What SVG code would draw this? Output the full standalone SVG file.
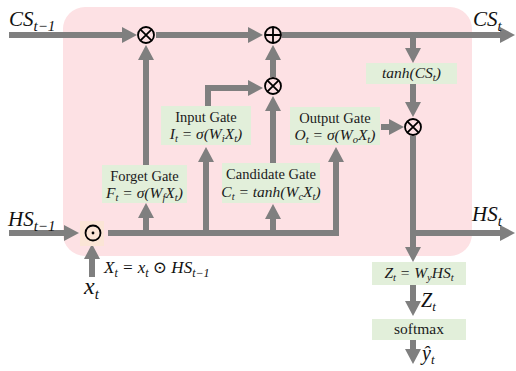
<svg xmlns="http://www.w3.org/2000/svg" width="516" height="371" viewBox="0 0 516 371">
<style>
.box{fill:#e2efda}
.t{font-family:"Liberation Serif","DejaVu Serif",serif;font-size:14.5px;fill:#1a1a1a;text-anchor:middle}
.m{font-family:"Liberation Serif","DejaVu Serif",serif;font-style:italic;font-size:15.5px;fill:#1a1a1a;text-anchor:middle}
.lab{font-family:"Liberation Serif","DejaVu Serif",serif;font-style:italic;font-size:21px;fill:#111}
.s{font-size:15px}
.ss{font-size:10.5px}
.ln{fill:none;stroke:#7f7f7f;stroke-width:6;marker-end:url(#ah)}
.op{fill:none;stroke:#000;stroke-width:1.8}
</style>
<defs>
<marker id="ah" markerUnits="userSpaceOnUse" viewBox="0 0 15 16" refX="5" refY="8" markerWidth="15" markerHeight="16" orient="auto">
<path d="M0,0 L15,8 L0,16 z" fill="#7f7f7f"/>
</marker>
</defs>
<rect x="63" y="7" width="409" height="249" rx="22" fill="#fde1e4"/>

<g id="connectors">
<path class="ln" d="M9,35 H127"/>
<path class="ln" d="M156,35 H253"/>
<path class="ln" d="M282,35 H505"/>
<path class="ln" d="M413,35 V53"/>
<path class="ln" d="M413,84 V107"/>
<path class="ln" d="M381,127 H394"/>
<path class="ln" d="M413,136 V252"/>
<path class="ln" d="M413,233 H505"/>
<path class="ln" d="M413,285 V306"/>
<path class="ln" d="M413,340 V354"/>
<path class="ln" d="M9,233 H69"/>
<path class="ln" d="M108,233 H336 V157"/>
<path class="ln" d="M146,233 V213"/>
<path class="ln" d="M206,233 V157"/>
<path class="ln" d="M273,233 V214"/>
<path class="ln" d="M146,165 V55"/>
<path class="ln" d="M208,106 V88 H253"/>
<path class="ln" d="M273,163 V106"/>
<path class="ln" d="M273,77 V55"/>
<path class="ln" d="M92,277 V254"/>
</g>

<g id="mul-forget"><circle class="op" cx="146" cy="35" r="8"/><path class="op" d="M140.3,29.3 L151.7,40.7 M151.7,29.3 L140.3,40.7"/></g>
<g id="add"><circle class="op" cx="273" cy="35" r="8"/><path class="op" d="M265,35 H281 M273,27 V43"/></g>
<g id="mul-input"><circle class="op" cx="273" cy="86" r="8"/><path class="op" d="M267.3,80.3 L278.7,91.7 M278.7,80.3 L267.3,91.7"/></g>
<g id="mul-output"><circle class="op" cx="413" cy="127" r="8"/><path class="op" d="M407.3,121.3 L418.7,132.7 M418.7,121.3 L407.3,132.7"/></g>
<g id="hadamard"><rect x="80" y="221" width="24" height="25" fill="#fbe5d6"/><circle class="op" cx="93" cy="233" r="7.5"/><circle cx="93" cy="233" r="1.4" fill="#000"/></g>

<g id="forget-gate"><rect class="box" x="102" y="165" width="85" height="38"/>
<text class="t" x="144.5" y="181">Forget Gate</text>
<text class="m" x="144.5" y="198">F<tspan class="ss" dy="3">t</tspan><tspan dy="-3"> = σ(W</tspan><tspan class="ss" dy="3">f</tspan><tspan dy="-3">X</tspan><tspan class="ss" dy="3">t</tspan><tspan dy="-3">)</tspan></text></g>

<g id="input-gate"><rect class="box" x="161" y="106" width="90" height="39"/>
<text class="t" x="206" y="122">Input Gate</text>
<text class="m" x="206" y="139">I<tspan class="ss" dy="3">t</tspan><tspan dy="-3"> = σ(W</tspan><tspan class="ss" dy="3">i</tspan><tspan dy="-3">X</tspan><tspan class="ss" dy="3">t</tspan><tspan dy="-3">)</tspan></text></g>

<g id="candidate-gate"><rect class="box" x="222" y="163" width="98" height="40"/>
<text class="t" x="271" y="179">Candidate Gate</text>
<text class="m" x="271" y="197">C<tspan class="ss" dy="3">t</tspan><tspan dy="-3"> = tanh(W</tspan><tspan class="ss" dy="3">c</tspan><tspan dy="-3">X</tspan><tspan class="ss" dy="3">t</tspan><tspan dy="-3">)</tspan></text></g>

<g id="output-gate"><rect class="box" x="290" y="107" width="90" height="38"/>
<text class="t" x="335" y="123">Output Gate</text>
<text class="m" x="335" y="140">O<tspan class="ss" dy="3">t</tspan><tspan dy="-3"> = σ(W</tspan><tspan class="ss" dy="3">o</tspan><tspan dy="-3">X</tspan><tspan class="ss" dy="3">t</tspan><tspan dy="-3">)</tspan></text></g>

<g id="tanh"><rect class="box" x="366" y="63" width="91" height="21"/>
<text class="m" x="411.5" y="78">tanh(CS<tspan class="ss" dy="3">t</tspan><tspan dy="-3">)</tspan></text></g>

<g id="zt"><rect class="box" x="372" y="262" width="94" height="23"/>
<text class="m" x="419" y="278">Z<tspan class="ss" dy="3">t</tspan><tspan dy="-3"> = W</tspan><tspan class="ss" dy="3">y</tspan><tspan dy="-3">HS</tspan><tspan class="ss" dy="3">t</tspan></text></g>

<g id="softmax"><rect class="box" x="372" y="319" width="94" height="21"/>
<text class="t" x="419" y="334" style="font-size:15.5px">softmax</text></g>

<g id="labels">
<text class="lab" x="9" y="26">CS<tspan class="s" dy="5">t−1</tspan></text>
<text class="lab" x="473" y="26">CS<tspan class="s" dy="5">t</tspan></text>
<text class="lab" x="8" y="226">HS<tspan class="s" dy="5">t−1</tspan></text>
<text class="lab" x="472" y="221">HS<tspan class="s" dy="5">t</tspan></text>
<text class="lab" x="84" y="294" style="font-size:24px">x<tspan class="s" dy="5">t</tspan></text>
<text class="lab" x="104" y="273" style="font-size:17px">X<tspan style="font-size:12px" dy="4">t</tspan><tspan dy="-4"> = x</tspan><tspan style="font-size:12px" dy="4">t</tspan><tspan dy="-4"> ⊙ HS</tspan><tspan style="font-size:12px" dy="4">t−1</tspan></text>
<text class="lab" x="421" y="307" style="font-size:20px">Z<tspan style="font-size:13px" dy="4">t</tspan></text>
<text class="lab" x="422" y="360" style="font-size:20px">ŷ<tspan style="font-size:13px" dy="4">t</tspan></text>
</g>
</svg>
